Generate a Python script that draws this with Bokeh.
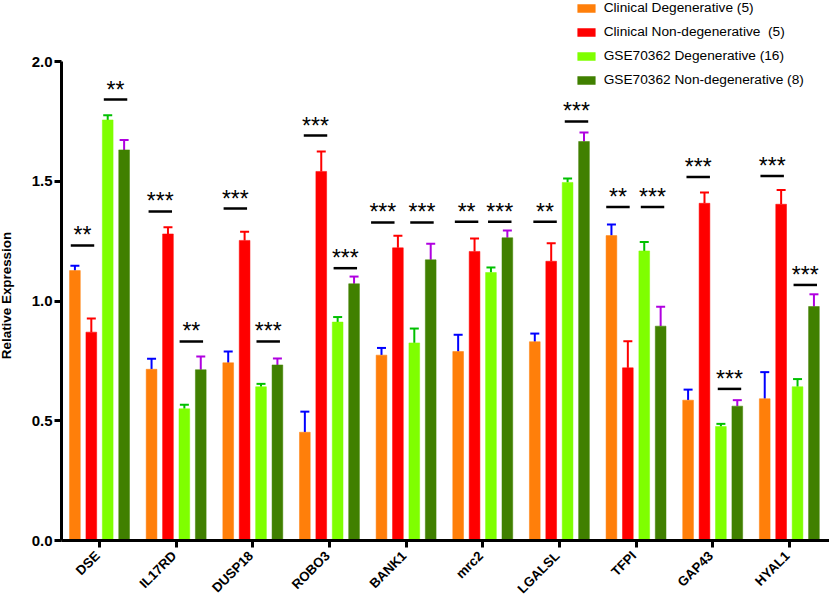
from math import pi
from bokeh.plotting import figure
from bokeh.models import FixedTicker, Whisker, TeeHead, ColumnDataSource, Legend, LegendItem, Range1d
from bokeh.core.properties import value
from bokeh.embed import file_html
from bokeh.resources import INLINE

genes = ["DSE", "IL17RD", "DUSP18", "ROBO3", "BANK1", "mrc2", "LGALSL", "TFPI", "GAP43", "HYAL1"]
y_ticks = [0, .5, 1, 1.5, 2]
y_tick_labels = ["0.0", "0.5", "1.0", "1.5", "2.0"]

clin_deg = [1.127, .715, .742, .452, .774, .789, .830, 1.273, .586, .592]
clin_deg_hi = [1.147, .759, .789, .538, .804, .859, .864, 1.319, .630, .703]
clin_non = [.870, 1.280, 1.253, 1.541, 1.222, 1.207, 1.166, .721, 1.408, 1.404]
clin_non_hi = [.927, 1.308, 1.289, 1.624, 1.272, 1.261, 1.241, .832, 1.453, 1.463]
gse_deg = [1.756, .550, .642, .912, .825, 1.119, 1.495, 1.209, .476, .642]
gse_deg_hi = [1.776, .567, .654, .933, .885, 1.140, 1.511, 1.246, .487, .674]
gse_non = [1.631, .713, .733, 1.072, 1.172, 1.264, 1.666, .895, .561, .977]
gse_non_hi = [1.672, .768, .760, 1.102, 1.239, 1.294, 1.704, .976, .586, 1.028]

series_names = ["Clinical Degenerative (5)", "Clinical Non-degenerative  (5)",
                "GSE70362 Degenerative (16)", "GSE70362 Non-degenerative (8)"]

bracket_x = [-.222, .209, .793, 1.198, 1.772, 2.201, 2.818, 3.207, 3.696, 4.207,
             4.789, 5.222, 5.813, 6.223, 6.764, 7.215, 7.811, 8.219, 8.776, 9.208]
bracket_y = [1.232, 1.841, 1.374, .831, 1.386, .831, 1.691, 1.137, 1.328, 1.328,
             1.331, 1.331, 1.331, 1.750, 1.393, 1.393, 1.518, .633, 1.522, 1.067]
bracket_stars = ["**", "**", "***", "**", "***", "***", "***", "***", "***", "***",
                 "**", "***", "**", "***", "**", "***", "***", "***", "***", "***"]

bar_colors = ["#FF7F0A", "#FF0000", "#7FFF00", "#408000"]
err_colors = ["#0000FF", "#FF0000", "#00C000", "#B000E0"]
offsets = [-.321, -.107, .107, .321]

p = figure(width=829, height=595, output_backend="svg", toolbar_location=None,
           x_range=Range1d(-.496, 9.524), y_range=Range1d(0, 540 / 239.5),
           min_border_left=61, min_border_right=0, min_border_top=0, min_border_bottom=55,
           outline_line_color=None, margin=(0, 0, 0, 0))
p.grid.visible = False

items = []
all_vals = [(clin_deg, clin_deg_hi), (clin_non, clin_non_hi), (gse_deg, gse_deg_hi), (gse_non, gse_non_hi)]
for (vals, his), col, ecol, off, name in zip(all_vals, bar_colors, err_colors, offsets, series_names):
    xs = [i + off for i in range(len(genes))]
    src = ColumnDataSource(dict(x=xs, top=vals, hi=his))
    w = Whisker(base="x", lower="top", upper="hi", source=src, line_color=ecol, line_width=2,
                lower_head=None, upper_head=TeeHead(size=9, line_color=ecol, line_width=2))
    p.add_layout(w)
    r = p.vbar(x="x", top="top", bottom=0, width=.14, source=src, fill_color=col,
               line_color=col, line_width=0.5)
    items.append(LegendItem(label=name, renderers=[r]))

half = .153
p.segment(x0=[x - half for x in bracket_x], x1=[x + half for x in bracket_x],
          y0=bracket_y, y1=bracket_y, line_color="black", line_width=2.5)
p.text(x=bracket_x, y=bracket_y, text=bracket_stars, text_align="center", text_baseline="alphabetic",
       text_font=value("Liberation Sans"), text_font_size="23px", text_color="black", y_offset=-10)

leg = Legend(items=items, location=(513.7, 453), glyph_width=22, glyph_height=10, label_height=14,
             label_standoff=7, spacing=9, padding=0, margin=0, border_line_color=None,
             background_fill_alpha=0, label_text_font="Liberation Sans", label_text_font_size="13.7px",
             label_text_color="black")
p.add_layout(leg)

xa, ya = p.xaxis[0], p.yaxis[0]
xa.ticker = FixedTicker(ticks=list(range(len(genes))))
xa.major_label_overrides = {i: "" for i in range(len(genes))}
ya.ticker = FixedTicker(ticks=y_ticks)
ya.major_label_overrides = dict(zip(y_ticks, y_tick_labels))
ya.bounds = (0, 2)
for a in (xa, ya):
    a.axis_line_width = 3
    a.axis_line_color = "black"
    a.major_tick_line_width = 3
    a.major_tick_line_color = "black"
    a.major_tick_out = 7
    a.major_tick_in = 0
    a.minor_tick_line_color = None
    a.major_label_text_font = "Liberation Sans"
    a.major_label_text_font_style = "bold"
    a.major_label_text_color = "black"
ya.major_label_text_font_size = "15px"
ya.major_label_standoff = 2
xa.major_label_standoff = 0

p.text(x=list(range(len(genes))), y=[0] * len(genes), text=genes, angle=pi / 4, text_align="right",
       text_baseline="middle", x_offset=-2, y_offset=13, text_font=value("Liberation Sans"),
       text_font_style="bold", text_font_size="13.3px", text_color="black", level="overlay")
p.text(x=[-1.21], y=[1.023], text=["Relative Expression"], angle=pi / 2, text_align="center",
       text_baseline="middle", text_font=value("Liberation Sans"), text_font_style="bold",
       text_font_size="13.4px", text_color="black", level="overlay")

open("out.html", "w").write(file_html(p, INLINE))
